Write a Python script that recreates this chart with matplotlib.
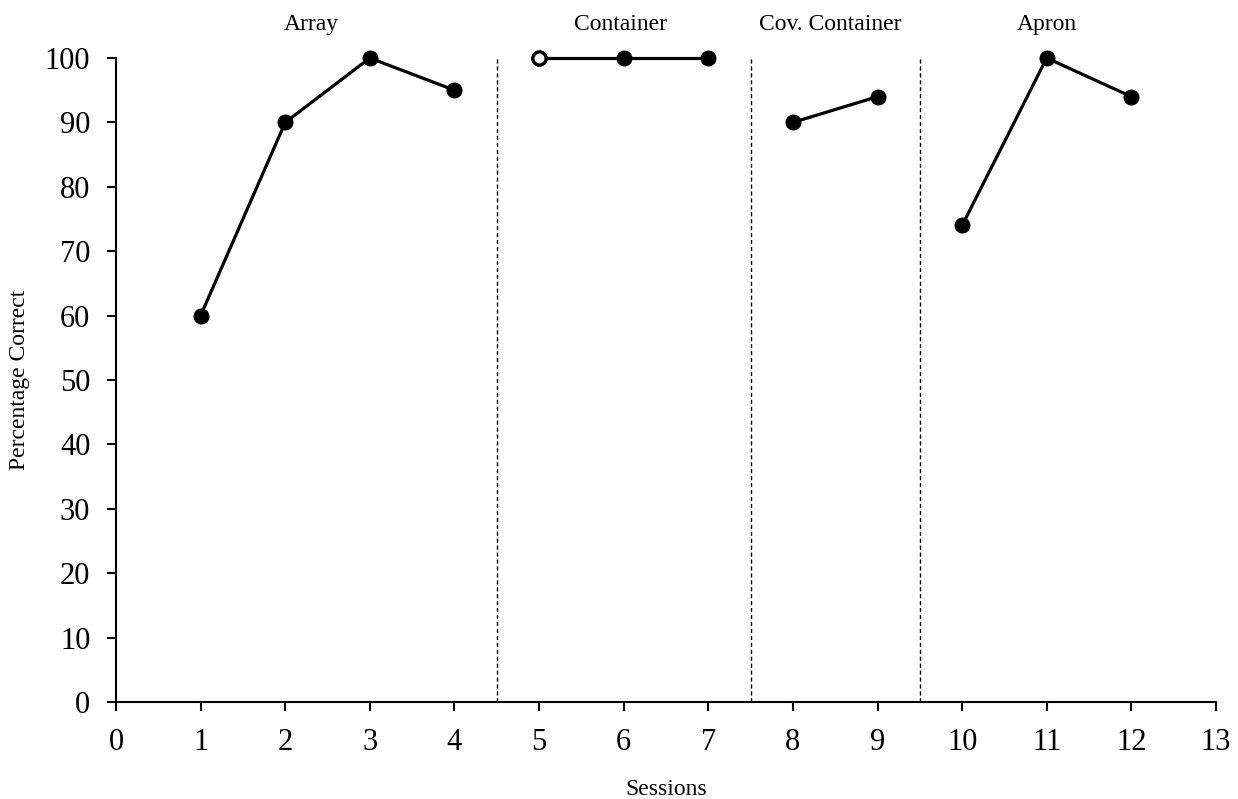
import matplotlib.pyplot as plt

plt.rcParams['font.family'] = ['Liberation Serif', 'DejaVu Serif']

# session data per phase
array_x = [1, 2, 3, 4]
array_y = [60, 90, 100, 95]
container_x = [5, 6, 7]
container_y = [100, 100, 100]
cov_x = [8, 9]
cov_y = [90, 94]
apron_x = [10, 11, 12]
apron_y = [74, 100, 94]

phase_lines = [4.5, 7.5, 9.5]
phase_names = ['Array', 'Container', 'Cov. Container', 'Apron']
phase_label_x = [2.31, 5.96, 8.44, 11.0]

fig = plt.figure(figsize=(12.38, 7.99), dpi=100)
ax = fig.add_axes([0.0937, 0.1214, 0.8885, 0.806])

mk = dict(color='black', linewidth=2.3, marker='o', markersize=10.5, clip_on=False)
ax.plot(array_x, array_y, **mk)
ax.plot(container_x, container_y, **mk)
# first container session drawn hollow
ax.plot(container_x[:1], container_y[:1], marker='o', markersize=9.5, markerfacecolor='white',
        markeredgecolor='black', markeredgewidth=2.4, linestyle='none', clip_on=False, zorder=5)
ax.plot(cov_x, cov_y, **mk)
ax.plot(apron_x, apron_y, **mk)

for x in phase_lines:
    ax.plot([x, x], [0, 100], color='black', linestyle=(0, (3, 2)), linewidth=1, clip_on=False)

for name, x in zip(phase_names, phase_label_x):
    ax.text(x, 105.2, name, ha='center', va='center', fontsize=17)

ax.set_xlim(0, 13)
ax.set_ylim(0, 100)
ax.set_xticks(range(0, 14))
ax.set_yticks(range(0, 101, 10))
ax.tick_params(axis='both', labelsize=22, length=6.5, width=1.5, direction='out')
ax.tick_params(axis='y', pad=12)
ax.tick_params(axis='x', pad=12)

for side in ['top', 'right']:
    ax.spines[side].set_visible(False)
for side in ['left', 'bottom']:
    ax.spines[side].set_linewidth(1.5)

ax.set_ylabel('Percentage Correct', fontsize=17, va='center')
ax.yaxis.set_label_coords(-0.0873, 0.5)
ax.set_xlabel('Sessions', fontsize=17, va='center')
ax.xaxis.set_label_coords(0.5, -0.1366)

fig.savefig('out.png', dpi=100)
